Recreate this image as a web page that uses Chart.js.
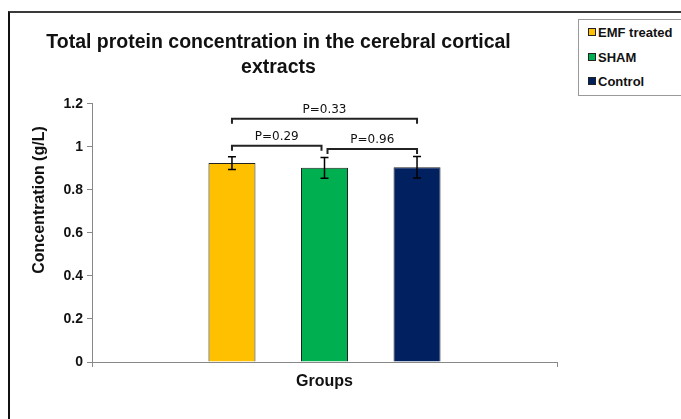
<!DOCTYPE html>
<html>
<head>
<meta charset="utf-8">
<script src="https://cdn.jsdelivr.net/npm/chart.js@4"></script>
<style>
  html, body { margin: 0; padding: 0; background: #fff; }
  #wrap { position: relative; width: 681px; height: 419px; overflow: hidden; }
  #frame { position: absolute; left: 8px; top: 11px; width: 700px; height: 430px;
           border-left: 2px solid #111; border-top: 2px solid #3a3a3a; }
  #chart { position: absolute; left: 0; top: 0; }
  #legend { position: absolute; left: 578px; top: 19px; width: 120px; height: 75px;
            border: 1px solid #9a9a9a; background: #fff;
            font: bold 13px "Liberation Sans", Arial, sans-serif; color: #111; }
  .item { position: absolute; left: 9px; height: 16px; line-height: 16px; white-space: nowrap; }
  .swatch { display: inline-block; width: 6px; height: 6px; border: 1px solid #222;
            margin-right: 2px; vertical-align: 1px; }
</style>
</head>
<body>
<div id="wrap">
  <div id="frame"></div>
  <canvas id="chart" width="681" height="419"></canvas>
  <div id="legend"></div>
</div>
<script>
// data
const categories = ['EMF treated', 'SHAM', 'Control'];
const meanValues = [0.924, 0.902, 0.905];
const errorValues = [0.03, 0.048, 0.05];
const barColors = ['#FFC000', '#00B050', '#002060'];
const yTicks = [0, 0.2, 0.4, 0.6, 0.8, 1, 1.2];
const comparisons = [[0, 2], [0, 1], [1, 2]];
const comparisonLevels = [1.13, 1.005, 0.99];
const pLabels = ['P=0.33', 'P=0.29', 'P=0.96'];

const FONT = '"Liberation Sans", Arial, sans-serif';

// error bars, significance brackets and the y axis title
const annotate = {
    id: 'annotate',
    afterDatasetsDraw(chart) {
        const ctx = chart.ctx;
        const y = chart.scales.y;
        const xs = chart.data.datasets.map((d, i) => chart.getDatasetMeta(i).data[0].x);

        ctx.save();
        ctx.strokeStyle = '#000';
        ctx.lineWidth = 1.5;
        meanValues.forEach((v, i) => {
            const top = y.getPixelForValue(v + errorValues[i]);
            const bot = y.getPixelForValue(v - errorValues[i]);
            ctx.beginPath();
            ctx.moveTo(xs[i], top); ctx.lineTo(xs[i], bot);
            ctx.moveTo(xs[i] - 4, top); ctx.lineTo(xs[i] + 4, top);
            ctx.moveTo(xs[i] - 4, bot); ctx.lineTo(xs[i] + 4, bot);
            ctx.stroke();
        });

        ctx.strokeStyle = '#222';
        ctx.lineWidth = 2;
        ctx.fillStyle = '#111';
        ctx.font = '12px "DejaVu Sans", Verdana, sans-serif';
        ctx.textAlign = 'center';
        ctx.textBaseline = 'alphabetic';
        comparisons.forEach(([a, b], k) => {
            const left = xs[a] + (comparisons.some(c => c[1] === a) ? 3 : 0);
            const right = xs[b] - (comparisons.some(c => c[0] === b) ? 3 : 0);
            const yy = y.getPixelForValue(comparisonLevels[k]);
            ctx.beginPath();
            ctx.moveTo(left, yy + 5);
            ctx.lineTo(left, yy);
            ctx.lineTo(right, yy);
            ctx.lineTo(right, yy + 5);
            ctx.stroke();
            ctx.fillText(pLabels[k], (left + right) / 2, yy - 6);
        });

        ctx.translate(40, 200);
        ctx.rotate(-Math.PI / 2);
        ctx.font = 'bold 16px ' + FONT;
        ctx.textBaseline = 'middle';
        ctx.fillText('Concentration (g/L)', 0, 0);
        ctx.restore();
    }
};

const chart = new Chart(document.getElementById('chart').getContext('2d'), {
    type: 'bar',
    data: {
        labels: [''],
        datasets: categories.map((name, i) => ({
            label: name,
            data: [meanValues[i]],
            backgroundColor: barColors[i],
            borderColor: '#222',
            borderWidth: 1,
            categoryPercentage: 0.597,
            barPercentage: 0.508
        }))
    },
    options: {
        responsive: false,
        animation: false,
        layout: { padding: { left: 0, right: 124, top: 0, bottom: 0 } },
        plugins: {
            legend: { display: false },
            tooltip: { enabled: false },
            title: {
                display: true,
                text: ['Total protein concentration in the cerebral cortical', 'extracts'],
                color: '#111',
                font: { family: FONT, size: 19.5, weight: 'bold', lineHeight: 1.3 },
                padding: { top: 30, bottom: 23 }
            }
        },
        scales: {
            x: {
                offset: true,
                grid: { drawOnChartArea: false, tickLength: 5, color: '#888', offset: true },
                border: { color: '#888' },
                ticks: { display: true },
                title: {
                    display: true,
                    text: 'Groups',
                    color: '#111',
                    font: { family: FONT, size: 16, weight: 'bold' },
                    padding: { top: 0, bottom: 28 }
                },
                afterFit: s => { s.height = 57; }
            },
            y: {
                min: 0,
                max: 1.2,
                afterBuildTicks: s => { s.ticks = yTicks.map(v => ({ value: v })); },
                grid: { drawOnChartArea: false, tickLength: 5, color: '#888' },
                border: { color: '#888' },
                ticks: {
                    color: '#111',
                    padding: 4,
                    font: { family: FONT, size: 14, weight: 'bold' },
                    callback: v => String(+v.toFixed(1))
                },
                afterFit: s => { s.width = 92; }
            }
        }
    },
    plugins: [annotate]
});

// html legend, built from the datasets
const legend = document.getElementById('legend');
chart.data.datasets.forEach((ds, i) => {
    const item = document.createElement('div');
    item.className = 'item';
    item.style.top = (5 + i * 24.5) + 'px';
    item.innerHTML = '<span class="swatch" style="background:' + ds.backgroundColor + '"></span>' + ds.label;
    legend.appendChild(item);
});
</script>
</body>
</html>
